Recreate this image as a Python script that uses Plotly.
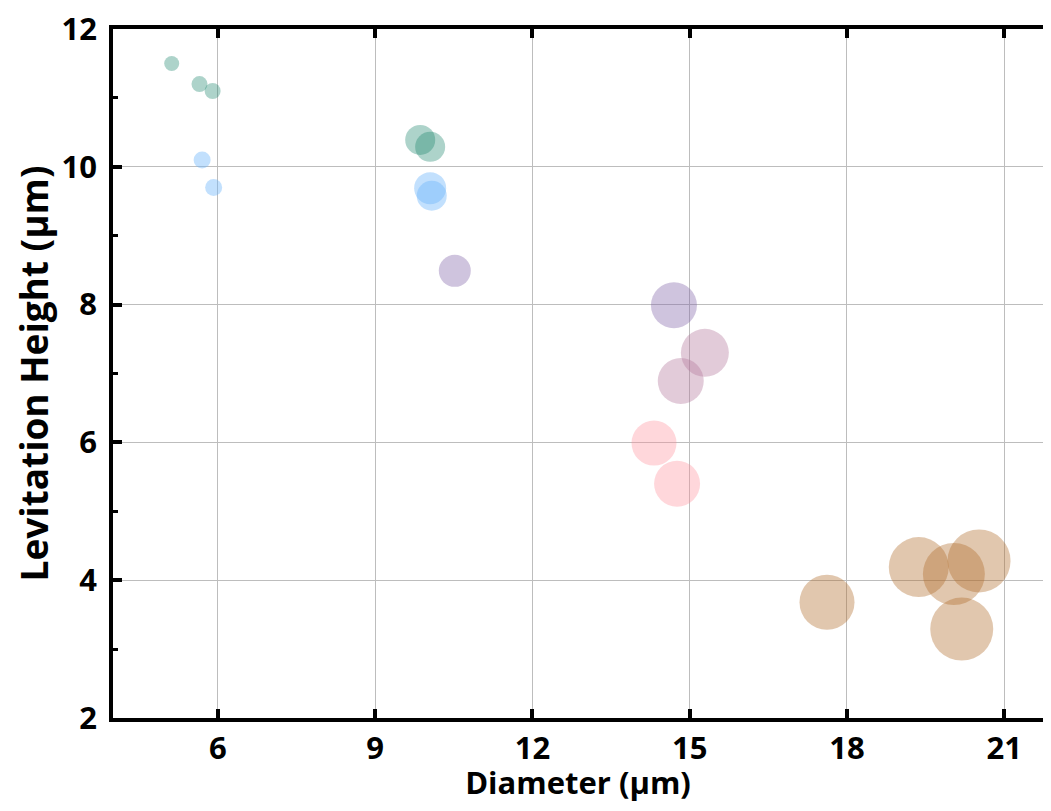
import plotly.graph_objects as go

# Data
groups = ["teal_small", "blue_small", "teal_mid", "blue_mid", "purple_mid",
          "purple_big", "mauve", "pink", "brown"]

teal_small_x = [5.12, 5.65, 5.90]
teal_small_y = [11.5, 11.2, 11.1]
teal_small_s = [15, 16, 16]

blue_small_x = [5.70, 5.92]
blue_small_y = [10.1, 9.7]
blue_small_s = [17, 17]

teal_mid_x = [9.86, 10.05]
teal_mid_y = [10.39, 10.29]
teal_mid_s = [30, 30]

blue_mid_x = [10.05, 10.08]
blue_mid_y = [9.69, 9.58]
blue_mid_s = [32, 30]

purple_mid_x = [10.52]
purple_mid_y = [8.49]
purple_mid_s = [32]

purple_big_x = [14.70]
purple_big_y = [7.99]
purple_big_s = [46]

mauve_x = [15.29, 14.83]
mauve_y = [7.30, 6.89]
mauve_s = [48, 46]

pink_x = [14.32, 14.76]
pink_y = [5.99, 5.40]
pink_s = [45, 46]

brown_x = [17.62, 19.37, 20.04, 20.52, 20.19]
brown_y = [3.68, 4.19, 4.09, 4.28, 3.29]
brown_s = [55, 60, 62, 63, 63]

x_ticks = [6, 9, 12, 15, 18, 21]
y_ticks = [2, 4, 6, 8, 10, 12]

series = [
    (teal_small_x, teal_small_y, teal_small_s, "rgba(31,135,111,0.52)"),
    (blue_small_x, blue_small_y, blue_small_s, "rgba(110,180,250,0.6)"),
    (teal_mid_x, teal_mid_y, teal_mid_s, "rgba(31,135,111,0.52)"),
    (blue_mid_x, blue_mid_y, blue_mid_s, "rgba(110,180,250,0.6)"),
    (purple_mid_x, purple_mid_y, purple_mid_s, "rgba(129,101,169,0.55)"),
    (purple_big_x, purple_big_y, purple_big_s, "rgba(129,101,169,0.55)"),
    (mauve_x, mauve_y, mauve_s, "rgba(180,120,157,0.55)"),
    (pink_x, pink_y, pink_s, "rgba(255,140,152,0.5)"),
    (brown_x, brown_y, brown_s, "rgba(177,109,45,0.55)"),
]

fig = go.Figure()
for (xs, ys, ss, col), name in zip(series, groups):
    fig.add_trace(go.Scatter(
        x=xs, y=ys, mode="markers", name=name, showlegend=False,
        marker=dict(size=ss, color=col, line=dict(width=0)),
    ))

font_family = "Open Sans, Lato, sans-serif"

# Page body has an 8px default margin; size the figure so nothing scrolls.
fig.update_layout(
    width=1035, height=795,
    margin=dict(l=105, r=0, t=21, b=85),
    paper_bgcolor="white", plot_bgcolor="white",
    font=dict(family=font_family, color="black"),
)

fig.update_xaxes(
    range=[4, 21.74],
    automargin=False,
    tickvals=x_ticks,
    ticks="inside", ticklen=9, tickwidth=3.5, tickcolor="black",
    showline=True, linecolor="black", linewidth=3.5, mirror="ticks",
    showgrid=True, gridcolor="#bdbdbd", gridwidth=1,
    zeroline=False,
    ticklabeloverflow="allow",
    tickfont=dict(size=31, family=font_family, weight="bold"),
    title=dict(text="Diameter (µm)", font=dict(size=31, family=font_family, weight="bold"), standoff=12),
)

fig.update_yaxes(
    range=[2, 12],
    automargin=False,
    tickvals=y_ticks,
    ticks="inside", ticklen=9, tickwidth=3.5, tickcolor="black",
    minor=dict(ticks="inside", ticklen=5, tickwidth=3, tickcolor="black", dtick=1, showgrid=False),
    showline=True, linecolor="black", linewidth=3.5, mirror=False,
    showgrid=True, gridcolor="#bdbdbd", gridwidth=1,
    zeroline=False,
    ticklabeloverflow="allow",
    tickfont=dict(size=31, family=font_family, weight="bold"),
    ticklabelstandoff=6,
    title=dict(text="Levitation Height (µm)", font=dict(size=37, family=font_family, weight="bold"), standoff=19),
)

fig.write_html("out.html")
